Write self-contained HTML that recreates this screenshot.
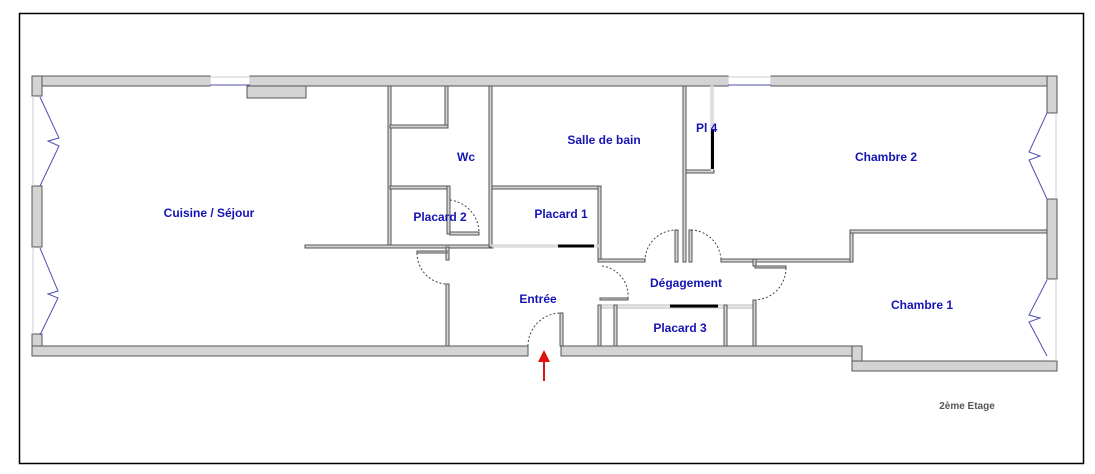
<!DOCTYPE html>
<html><head><style>html,body{margin:0;padding:0;background:#fff}svg{display:block}
text{font-family:"Liberation Sans",sans-serif;font-weight:bold;font-size:12px;fill:#1414b4}</style></head>
<body>
<svg width="1095" height="474" viewBox="0 0 1095 474" xmlns="http://www.w3.org/2000/svg">
<rect x="19.5" y="13.5" width="1064" height="450" fill="#fff" stroke="#000" stroke-width="1.5"/>
<g fill="#d4d4d4" stroke="#555" stroke-width="1">
<rect x="32" y="76" width="178" height="10"/>
<rect x="250" y="76" width="478" height="10"/>
<rect x="771" y="76" width="286" height="10"/>
<rect x="32" y="76" width="10" height="20"/>
<rect x="32" y="186" width="10" height="61"/>
<rect x="32" y="334" width="10" height="22"/>
<rect x="32" y="346" width="496" height="10"/>
<rect x="561" y="346" width="299" height="10"/>
<rect x="852" y="346" width="10" height="25"/>
<rect x="852" y="361" width="205" height="10"/>
<rect x="1047" y="76" width="10" height="37"/>
<rect x="1047" y="199" width="10" height="80"/>
<rect x="247" y="86" width="59" height="12"/>
<rect x="388" y="86" width="3" height="161"/>
<rect x="445" y="86" width="3" height="41"/>
<rect x="390" y="125" width="58" height="3"/>
<rect x="390" y="186" width="60" height="3"/>
<rect x="447" y="186" width="3" height="48"/>
<rect x="450" y="232" width="29" height="3"/>
<rect x="305" y="245" width="188" height="3"/>
<rect x="489" y="86" width="3" height="161"/>
<rect x="446" y="247" width="3" height="13"/>
<rect x="446" y="284" width="3" height="62"/>
<rect x="417" y="251" width="30" height="2"/>
<rect x="492" y="186" width="109" height="3"/>
<rect x="598" y="186" width="3" height="76"/>
<rect x="598" y="259" width="47" height="3"/>
<rect x="683" y="86" width="3" height="176"/>
<rect x="675" y="230" width="3" height="32"/>
<rect x="689" y="230" width="3" height="32"/>
<rect x="721" y="259" width="132" height="3"/>
<rect x="850" y="230" width="3" height="32"/>
<rect x="850" y="230" width="197" height="3"/>
<rect x="686" y="170" width="28" height="3"/>
<rect x="711" y="86" width="2" height="86" fill="#eee" stroke="#ccc"/>
<rect x="600" y="298" width="28" height="2"/>
<rect x="601" y="305" width="152" height="3" fill="#eee" stroke="#bbb"/>
<rect x="598" y="305" width="3" height="41"/>
<rect x="614" y="305" width="3" height="41"/>
<rect x="724" y="305" width="3" height="41"/>
<rect x="753" y="259" width="3" height="7"/>
<rect x="753" y="300" width="3" height="46"/>
<rect x="755" y="266" width="31" height="2"/>
<rect x="560" y="313" width="3" height="33"/>
<rect x="492" y="245" width="106" height="2" fill="#eee" stroke="#ccc"/>
</g>
<g fill="#000">
<rect x="558" y="244.5" width="36" height="3"/>
<rect x="670" y="304.5" width="48" height="3"/>
<rect x="711" y="129" width="3" height="40"/>
</g>
<g stroke="#ccc" stroke-width="1" fill="none">
<rect x="210" y="77" width="40" height="8"/>
<rect x="728" y="77" width="43" height="8"/>
<line x1="33" y1="96" x2="33" y2="186"/><line x1="33" y1="247" x2="33" y2="334"/>
<line x1="1056" y1="113" x2="1056" y2="199"/><line x1="1056" y1="279" x2="1056" y2="361"/>
</g>
<g stroke="#5050b0" stroke-width="1" fill="none">
<line x1="210" y1="85" x2="250" y2="85"/><line x1="728" y1="85" x2="771" y2="85"/>
<polyline points="40,97 59,138 48,141 59,146 40,186"/>
<polyline points="40,248 58,291 48,294 58,298 40,335"/>
<polyline points="1047,113 1029,152 1040,156 1029,160 1047,199"/>
<polyline points="1047,280 1029,315 1040,318 1029,322 1047,356"/>
</g>
<g stroke="#444" stroke-width="1" fill="none" stroke-dasharray="2,2">
<path d="M450,200 A33,33 0 0 1 479,233"/>
<path d="M417,253 A31,31 0 0 0 446,284"/>
<path d="M528,346 A33,33 0 0 1 561,313"/>
<path d="M645,261 A31,31 0 0 1 676,230"/>
<path d="M691,230 A31,31 0 0 1 721,261"/>
<path d="M602,266 A30,30 0 0 1 628,298"/>
<path d="M786,268 A32,32 0 0 1 755,300"/>
</g>
<line x1="544" y1="381" x2="544" y2="360" stroke="#e01010" stroke-width="2"/>
<polygon points="538,362 550,362 544,350" fill="#e01010"/>
<text x="209" y="217" text-anchor="middle">Cuisine / Séjour</text>
<text x="466" y="161" text-anchor="middle">Wc</text>
<text x="440" y="221" text-anchor="middle">Placard 2</text>
<text x="561" y="218" text-anchor="middle">Placard 1</text>
<text x="604" y="144" text-anchor="middle">Salle de bain</text>
<text x="696" y="132">Pl 4</text>
<text x="886" y="161" text-anchor="middle">Chambre 2</text>
<text x="922" y="309" text-anchor="middle">Chambre 1</text>
<text x="686" y="287" text-anchor="middle">Dégagement</text>
<text x="680" y="332" text-anchor="middle">Placard 3</text>
<text x="538" y="303" text-anchor="middle">Entrée</text>
<text x="967" y="409" text-anchor="middle" style="fill:#555;font-size:10px">2ème Etage</text>
</svg>
</body></html>
